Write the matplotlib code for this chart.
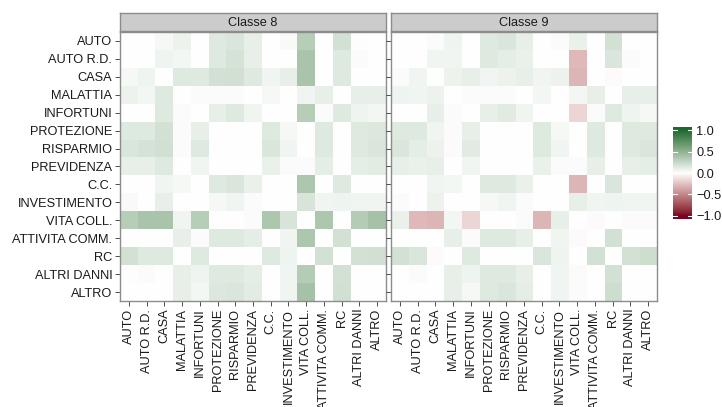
import numpy as np
import matplotlib
matplotlib.use("Agg")
import matplotlib.pyplot as plt
from matplotlib.colors import ListedColormap, Normalize

plt.rcParams['font.family'] = ['Liberation Sans', 'DejaVu Sans']

# ---------------- data ----------------
labels = ["AUTO", "AUTO R.D.", "CASA", "MALATTIA", "INFORTUNI", "PROTEZIONE",
          "RISPARMIO", "PREVIDENZA", "C.C.", "INVESTIMENTO", "VITA COLL.",
          "ATTIVITA COMM.", "RC", "ALTRI DANNI", "ALTRO"]
panel_titles = ["Classe 8", "Classe 9"]

# upper triangles (row i, columns i+1 .. 14)
upper_classe8 = [
    [0, .04, .08, 0, .14, .16, .10, 0, .03, .32, 0, .19, .01, 0],
    [.07, .05, 0, .14, .18, .10, 0, 0, .38, 0, .14, .02, 0],
    [.14, .14, .19, .20, .14, .06, .10, .38, 0, .14, 0, 0],
    [.02, .02, .02, 0, .04, 0, .06, .10, 0, .10, .10],
    [.10, .14, .06, 0, 0, .32, .02, .14, .07, .05],
    [0, 0, .14, .04, 0, .14, 0, .14, .15],
    [0, .16, .06, 0, .14, 0, .14, .16],
    [.09, .02, .02, .11, 0, .11, .12],
    [0, .36, 0, .14, 0, 0],
    [.17, .06, .07, .06, .06],
    [.36, 0, .33, .40],
    [.19, 0, 0],
    [.19, .20],
    [0],
]
upper_classe9 = [
    [0, .02, .07, 0, .14, .16, .10, 0, .02, .09, 0, .19, 0, 0],
    [.06, .06, 0, .14, .11, .09, 0, 0, -.28, 0, .16, .02, 0],
    [.08, .10, .06, .08, .10, .06, .08, -.30, 0, -.02, 0, 0],
    [.02, .02, .02, 0, .05, 0, .05, .10, 0, .10, .10],
    [.10, .13, .06, 0, 0, -.17, .02, .14, .07, .04],
    [0, 0, .14, .04, 0, .14, 0, .14, .14],
    [0, .14, .06, 0, .14, 0, .14, .16],
    [.09, .02, .02, .10, 0, .10, .11],
    [0, -.30, 0, .16, 0, 0],
    [.10, .06, .07, .06, .06],
    [-.02, 0, .02, .02],
    [.19, 0, 0],
    [.19, .22],
    [0],
]
cbar_ticks = [-1.0, -0.5, 0.0, 0.5, 1.0]


def build(upper):
    n = len(labels)
    m = np.zeros((n, n))
    for i, row in enumerate(upper):
        for k, v in enumerate(row):
            j = i + 1 + k
            m[i, j] = v
            m[j, i] = v
    return m


# ---------------- Lab-interpolated diverging colormap ----------------
def hex2rgb(h):
    h = h.lstrip('#')
    return np.array([int(h[i:i + 2], 16) for i in (0, 2, 4)]) / 255.0


def srgb2lin(c):
    return np.where(c <= 0.04045, c / 12.92, ((c + 0.055) / 1.055) ** 2.4)


def lin2srgb(c):
    c = np.clip(c, 0, 1)
    return np.where(c <= 0.0031308, 12.92 * c, 1.055 * c ** (1 / 2.4) - 0.055)


M = np.array([[0.4124, 0.3576, 0.1805],
              [0.2126, 0.7152, 0.0722],
              [0.0193, 0.1192, 0.9505]])
Minv = np.linalg.inv(M)
WHITE = M @ np.ones(3)


def rgb2lab(rgb):
    xyz = M @ srgb2lin(rgb) / WHITE
    f = np.where(xyz > (6 / 29) ** 3, np.cbrt(xyz), xyz / (3 * (6 / 29) ** 2) + 4 / 29)
    return np.array([116 * f[1] - 16, 500 * (f[0] - f[1]), 200 * (f[1] - f[2])])


def lab2rgb(lab):
    fy_ = (lab[0] + 16) / 116
    fx_ = fy_ + lab[1] / 500
    fz_ = fy_ - lab[2] / 200
    f = np.array([fx_, fy_, fz_])
    xyz = np.where(f > 6 / 29, f ** 3, 3 * (6 / 29) ** 2 * (f - 4 / 29)) * WHITE
    return np.clip(lin2srgb(Minv @ xyz), 0, 1)


low_lab = rgb2lab(hex2rgb("#7A0025"))
mid_lab = rgb2lab(hex2rgb("#FFFFFF"))
high_lab = rgb2lab(hex2rgb("#1B6A31"))
vals = np.linspace(-1, 1, 511)
cols = []
for v in vals:
    if v < 0:
        lab = mid_lab + (-v) * (low_lab - mid_lab)
    else:
        lab = mid_lab + v * (high_lab - mid_lab)
    cols.append(lab2rgb(lab))
cmap = ListedColormap(cols)
norm = Normalize(-1, 1)

# ---------------- figure ----------------
W, H = 722, 407
fig = plt.figure(figsize=(W / 100, H / 100), dpi=100)
FS = 9.2


def fx(px):
    return px / W


def fy(py):
    return 1 - py / H


panel_x = [120, 391]
panel_w = 266
panel_top, panel_bot = 32, 301
mats = [build(upper_classe8), build(upper_classe9)]
n = len(labels)

for p in range(2):
    ax = fig.add_axes([fx(panel_x[p]), fy(panel_bot), panel_w / W, (panel_bot - panel_top) / H])
    ax.imshow(mats[p], cmap=cmap, norm=norm, aspect='auto', interpolation='nearest')
    ax.set_xlim(-0.5, n - 0.5)
    ax.set_ylim(n - 0.5, -0.5)
    ax.set_xticks(range(n))
    ax.set_xticklabels(labels, rotation=90, fontsize=FS, color='#1a1a1a')
    ax.set_yticks(range(n))
    if p == 0:
        ax.set_yticklabels(labels, fontsize=FS, color='#1a1a1a')
    else:
        ax.set_yticklabels([])
        ax.tick_params(axis='y', length=0)
    ax.tick_params(axis='both', length=3.5, width=0.6, color='#333333', pad=2)
    for s in ax.spines.values():
        s.set_color('#8c8c8c')
        s.set_linewidth(1.0)

    # strip
    sax = fig.add_axes([fx(panel_x[p]), fy(31), panel_w / W, 18 / H])
    sax.set_facecolor('#cccccc')
    sax.set_xticks([])
    sax.set_yticks([])
    for s in sax.spines.values():
        s.set_color('#8c8c8c')
        s.set_linewidth(1.0)
    sax.text(0.5, 0.45, panel_titles[p], ha='center', va='center', fontsize=FS,
             color='#1a1a1a', transform=sax.transAxes)

# colorbar
cb_top, cb_bot = 127, 219
cax = fig.add_axes([fx(673), fy(cb_bot), 19 / W, (cb_bot - cb_top) / H])
ext = 1.07
grad = np.linspace(-ext, ext, 300).reshape(-1, 1)
cax.imshow(grad, cmap=cmap, norm=norm, aspect='auto', origin='lower',
           extent=[0, 1, -ext, ext], interpolation='bilinear')
cax.set_xlim(0, 1)
cax.set_ylim(-ext, ext)
cax.set_xticks([])
cax.yaxis.tick_right()
cax.set_yticks(cbar_ticks)
cax.set_yticklabels([f"{t:.1f}".replace('-', '\u2212') for t in cbar_ticks],
                    fontsize=FS, color='#1a1a1a')
cax.tick_params(axis='y', length=0, pad=3)
for s in cax.spines.values():
    s.set_visible(False)
for t in cbar_ticks:
    cax.plot([0, 0.2], [t, t], color='white', lw=0.8)
    cax.plot([0.8, 1], [t, t], color='white', lw=0.8)

fig.savefig("out.png", dpi=100)
